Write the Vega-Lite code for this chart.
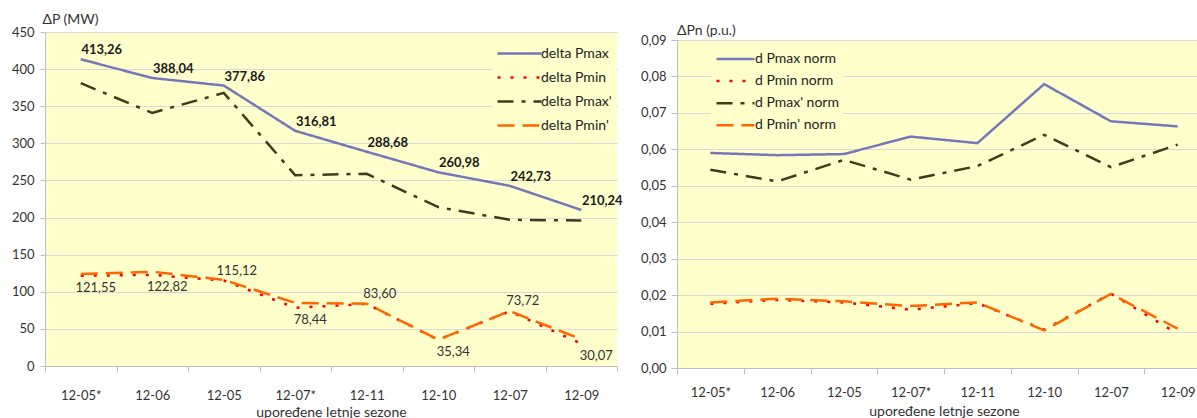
{
  "$schema": "https://vega.github.io/schema/vega-lite/v6.json",
  "padding": {"left": 11, "top": 12, "right": -13, "bottom": 0},
  "autosize": {"type": "pad"},
  "background": "white",
  "spacing": 17,
  "config": {
    "locale": {"number": {"decimal": ",", "thousands": ".", "grouping": [3], "currency": ["", ""]}},
    "font": "Lato",
    "view": {"fill": "#FFFFCC", "stroke": null},
    "axis": {
      "labelFont": "Lato", "labelFontSize": 13, "labelColor": "#333333",
      "titleFont": "Lato", "titleFontSize": 14, "titleFontWeight": "normal", "titleColor": "#333333",
      "domainColor": "#BFBFBF", "tickColor": "#BFBFBF", "gridColor": "#D9D9D9"
    },
    "legend": {"labelFont": "Lato", "labelFontSize": 14, "labelColor": "#222222"}
  },
  "resolve": {"scale": {"color": "independent", "strokeDash": "independent"}, "legend": {"color": "independent", "strokeDash": "independent"}},
  "datasets": {
    "abs": [
      {"season": "12-05*", "series": "delta Pmax", "value": 413.26},
      {"season": "12-06", "series": "delta Pmax", "value": 388.04},
      {"season": "12-05", "series": "delta Pmax", "value": 377.86},
      {"season": "12-07*", "series": "delta Pmax", "value": 316.81},
      {"season": "12-11", "series": "delta Pmax", "value": 288.68},
      {"season": "12-10", "series": "delta Pmax", "value": 260.98},
      {"season": "12-07", "series": "delta Pmax", "value": 242.73},
      {"season": "12-09", "series": "delta Pmax", "value": 210.24},
      {"season": "12-05*", "series": "delta Pmin", "value": 121.55},
      {"season": "12-06", "series": "delta Pmin", "value": 122.82},
      {"season": "12-05", "series": "delta Pmin", "value": 115.12},
      {"season": "12-07*", "series": "delta Pmin", "value": 78.44},
      {"season": "12-11", "series": "delta Pmin", "value": 83.60},
      {"season": "12-10", "series": "delta Pmin", "value": 35.34},
      {"season": "12-07", "series": "delta Pmin", "value": 73.72},
      {"season": "12-09", "series": "delta Pmin", "value": 30.07},
      {"season": "12-05*", "series": "delta Pmax'", "value": 381},
      {"season": "12-06", "series": "delta Pmax'", "value": 341},
      {"season": "12-05", "series": "delta Pmax'", "value": 368},
      {"season": "12-07*", "series": "delta Pmax'", "value": 257},
      {"season": "12-11", "series": "delta Pmax'", "value": 259},
      {"season": "12-10", "series": "delta Pmax'", "value": 214},
      {"season": "12-07", "series": "delta Pmax'", "value": 197},
      {"season": "12-09", "series": "delta Pmax'", "value": 196},
      {"season": "12-05*", "series": "delta Pmin'", "value": 124},
      {"season": "12-06", "series": "delta Pmin'", "value": 127},
      {"season": "12-05", "series": "delta Pmin'", "value": 116},
      {"season": "12-07*", "series": "delta Pmin'", "value": 85},
      {"season": "12-11", "series": "delta Pmin'", "value": 84},
      {"season": "12-10", "series": "delta Pmin'", "value": 35.5},
      {"season": "12-07", "series": "delta Pmin'", "value": 74},
      {"season": "12-09", "series": "delta Pmin'", "value": 36}
    ],
    "norm": [
      {"season": "12-05*", "series": "d Pmax norm", "value": 0.0590},
      {"season": "12-06", "series": "d Pmax norm", "value": 0.0584},
      {"season": "12-05", "series": "d Pmax norm", "value": 0.0587},
      {"season": "12-07*", "series": "d Pmax norm", "value": 0.0635},
      {"season": "12-11", "series": "d Pmax norm", "value": 0.0617},
      {"season": "12-10", "series": "d Pmax norm", "value": 0.0779},
      {"season": "12-07", "series": "d Pmax norm", "value": 0.0677},
      {"season": "12-09", "series": "d Pmax norm", "value": 0.0663},
      {"season": "12-05*", "series": "d Pmin norm", "value": 0.0176},
      {"season": "12-06", "series": "d Pmin norm", "value": 0.0187},
      {"season": "12-05", "series": "d Pmin norm", "value": 0.0180},
      {"season": "12-07*", "series": "d Pmin norm", "value": 0.0160},
      {"season": "12-11", "series": "d Pmin norm", "value": 0.0178},
      {"season": "12-10", "series": "d Pmin norm", "value": 0.0105},
      {"season": "12-07", "series": "d Pmin norm", "value": 0.0204},
      {"season": "12-09", "series": "d Pmin norm", "value": 0.0094},
      {"season": "12-05*", "series": "d Pmax' norm", "value": 0.0544},
      {"season": "12-06", "series": "d Pmax' norm", "value": 0.0512},
      {"season": "12-05", "series": "d Pmax' norm", "value": 0.0571},
      {"season": "12-07*", "series": "d Pmax' norm", "value": 0.0517},
      {"season": "12-11", "series": "d Pmax' norm", "value": 0.0554},
      {"season": "12-10", "series": "d Pmax' norm", "value": 0.0640},
      {"season": "12-07", "series": "d Pmax' norm", "value": 0.0551},
      {"season": "12-09", "series": "d Pmax' norm", "value": 0.0613},
      {"season": "12-05*", "series": "d Pmin' norm", "value": 0.0180},
      {"season": "12-06", "series": "d Pmin' norm", "value": 0.0190},
      {"season": "12-05", "series": "d Pmin' norm", "value": 0.0183},
      {"season": "12-07*", "series": "d Pmin' norm", "value": 0.0170},
      {"season": "12-11", "series": "d Pmin' norm", "value": 0.0180},
      {"season": "12-10", "series": "d Pmin' norm", "value": 0.0103},
      {"season": "12-07", "series": "d Pmin' norm", "value": 0.0203},
      {"season": "12-09", "series": "d Pmin' norm", "value": 0.0108}
    ]
  },
  "hconcat": [
    {
      "width": 572,
      "height": 334,
      "data": {"name": "abs"},
      "encoding": {
        "x": {
          "field": "season", "type": "nominal",
          "sort": ["12-05*", "12-06", "12-05", "12-07*", "12-11", "12-10", "12-07", "12-09"],
          "scale": {"type": "band", "paddingInner": 0, "paddingOuter": 0},
          "axis": {"title": "upoređene letnje sezone", "tickBand": "extent", "labelAngle": 0, "tickSize": 5, "labelPadding": 18, "titlePadding": 3}
        },
        "y": {
          "field": "value", "type": "quantitative",
          "scale": {"domain": [0, 450], "nice": false},
          "axis": {"values": [0, 50, 100, 150, 200, 250, 300, 350, 400, 450], "format": "d", "title": "ΔP (MW)", "titleAngle": 0, "titleAlign": "left", "titleBaseline": "middle", "titleX": -3, "titleY": -13, "tickSize": 5, "labelPadding": 6}
        }
      },
      "layer": [
        {
          "mark": {"type": "line", "strokeWidth": 2.5},
          "encoding": {
            "order": {"value": null},
            "color": {
              "field": "series", "type": "nominal",
              "scale": {"domain": ["delta Pmax", "delta Pmin", "delta Pmax'", "delta Pmin'"], "range": ["#7577B8", "#FF0000", "#3D3D1B", "#FF6600"]},
              "legend": {"title": null, "orient": "none", "legendX": 447, "legendY": 5, "padding": 4, "symbolType": "M-1,0H3", "symbolSize": 484, "symbolStrokeWidth": 2.5, "labelOffset": 20, "rowPadding": 4, "fillColor": "#FFFFCC"}
            },
            "strokeDash": {
              "field": "series", "type": "nominal",
              "scale": {"domain": ["delta Pmax", "delta Pmin", "delta Pmax'", "delta Pmin'"], "range": [[1, 0], [3, 10], [16, 8, 4, 8], [17, 8]]},
              "legend": {"title": null, "orient": "none", "legendX": 447, "legendY": 5, "padding": 4, "symbolType": "M-1,0H3", "symbolSize": 484, "symbolStrokeWidth": 2.5, "labelOffset": 20, "rowPadding": 4, "fillColor": "#FFFFCC"}
            }
          }
        },
        {
          "transform": [{"filter": {"field": "series", "equal": "delta Pmax"}}],
          "mark": {"type": "text", "fontWeight": "bold", "fontSize": 13, "dx": 21, "dy": -9, "color": "#1a1a1a"},
          "encoding": {"text": {"field": "value", "type": "quantitative", "format": ".2f"}}
        },
        {
          "transform": [{"filter": {"and": [{"field": "series", "equal": "delta Pmin"}, {"field": "season", "oneOf": ["12-05", "12-11", "12-07"]}]}}],
          "mark": {"type": "text", "fontSize": 13, "dx": 13, "dy": -10, "color": "#333333"},
          "encoding": {"text": {"field": "value", "type": "quantitative", "format": ".2f"}}
        },
        {
          "transform": [{"filter": {"and": [{"field": "series", "equal": "delta Pmin"}, {"not": {"field": "season", "oneOf": ["12-05", "12-11", "12-07"]}}]}}],
          "mark": {"type": "text", "fontSize": 13, "dx": 15, "dy": 12, "color": "#333333"},
          "encoding": {"text": {"field": "value", "type": "quantitative", "format": ".2f"}}
        }
      ]
    },
    {
      "width": 534,
      "height": 336,
      "title": {"text": "ΔPn (p.u.)", "anchor": "start", "frame": "group", "offset": 1, "dy": 7, "font": "Lato", "fontSize": 14, "fontWeight": "normal", "color": "#333333"},
      "data": {"name": "norm"},
      "encoding": {
        "x": {
          "field": "season", "type": "nominal",
          "sort": ["12-05*", "12-06", "12-05", "12-07*", "12-11", "12-10", "12-07", "12-09"],
          "scale": {"type": "band", "paddingInner": 0, "paddingOuter": 0},
          "axis": {"title": "upoređene letnje sezone", "tickBand": "extent", "labelAngle": 0, "tickSize": 6, "labelPadding": 12, "titlePadding": 5}
        },
        "y": {
          "field": "value", "type": "quantitative",
          "scale": {"domain": [0, 0.0922], "nice": false},
          "axis": {"values": [0, 0.01, 0.02, 0.03, 0.04, 0.05, 0.06, 0.07, 0.08, 0.09], "format": ".2f", "title": null, "tickSize": 6, "labelPadding": 5}
        }
      },
      "layer": [
        {
          "transform": [{"filter": {"field": "series", "equal": "d Pmax norm"}}],
          "mark": {"type": "bar", "fill": "white", "stroke": "white", "strokeWidth": 1},
          "encoding": {"y": {"datum": 0.0922}, "y2": {"datum": 0.0902}}
        },
        {
          "mark": {"type": "line", "strokeWidth": 2.5},
          "encoding": {
            "order": {"value": null},
            "color": {
              "field": "series", "type": "nominal",
              "scale": {"domain": ["d Pmax norm", "d Pmin norm", "d Pmax' norm", "d Pmin' norm"], "range": ["#7577B8", "#FF0000", "#3D3D1B", "#FF6600"]},
              "legend": {"title": null, "orient": "none", "legendX": 34, "legendY": 12, "padding": 4, "symbolType": "M-1,0H3", "symbolSize": 361, "symbolStrokeWidth": 2.5, "labelOffset": 18, "rowPadding": 4.1, "fillColor": "#FFFFCC"}
            },
            "strokeDash": {
              "field": "series", "type": "nominal",
              "scale": {"domain": ["d Pmax norm", "d Pmin norm", "d Pmax' norm", "d Pmin' norm"], "range": [[1, 0], [3, 10], [16, 8, 4, 8], [17, 8]]},
              "legend": {"title": null, "orient": "none", "legendX": 34, "legendY": 12, "padding": 4, "symbolType": "M-1,0H3", "symbolSize": 361, "symbolStrokeWidth": 2.5, "labelOffset": 18, "rowPadding": 4.1, "fillColor": "#FFFFCC"}
            }
          }
        }
      ]
    }
  ]
}
